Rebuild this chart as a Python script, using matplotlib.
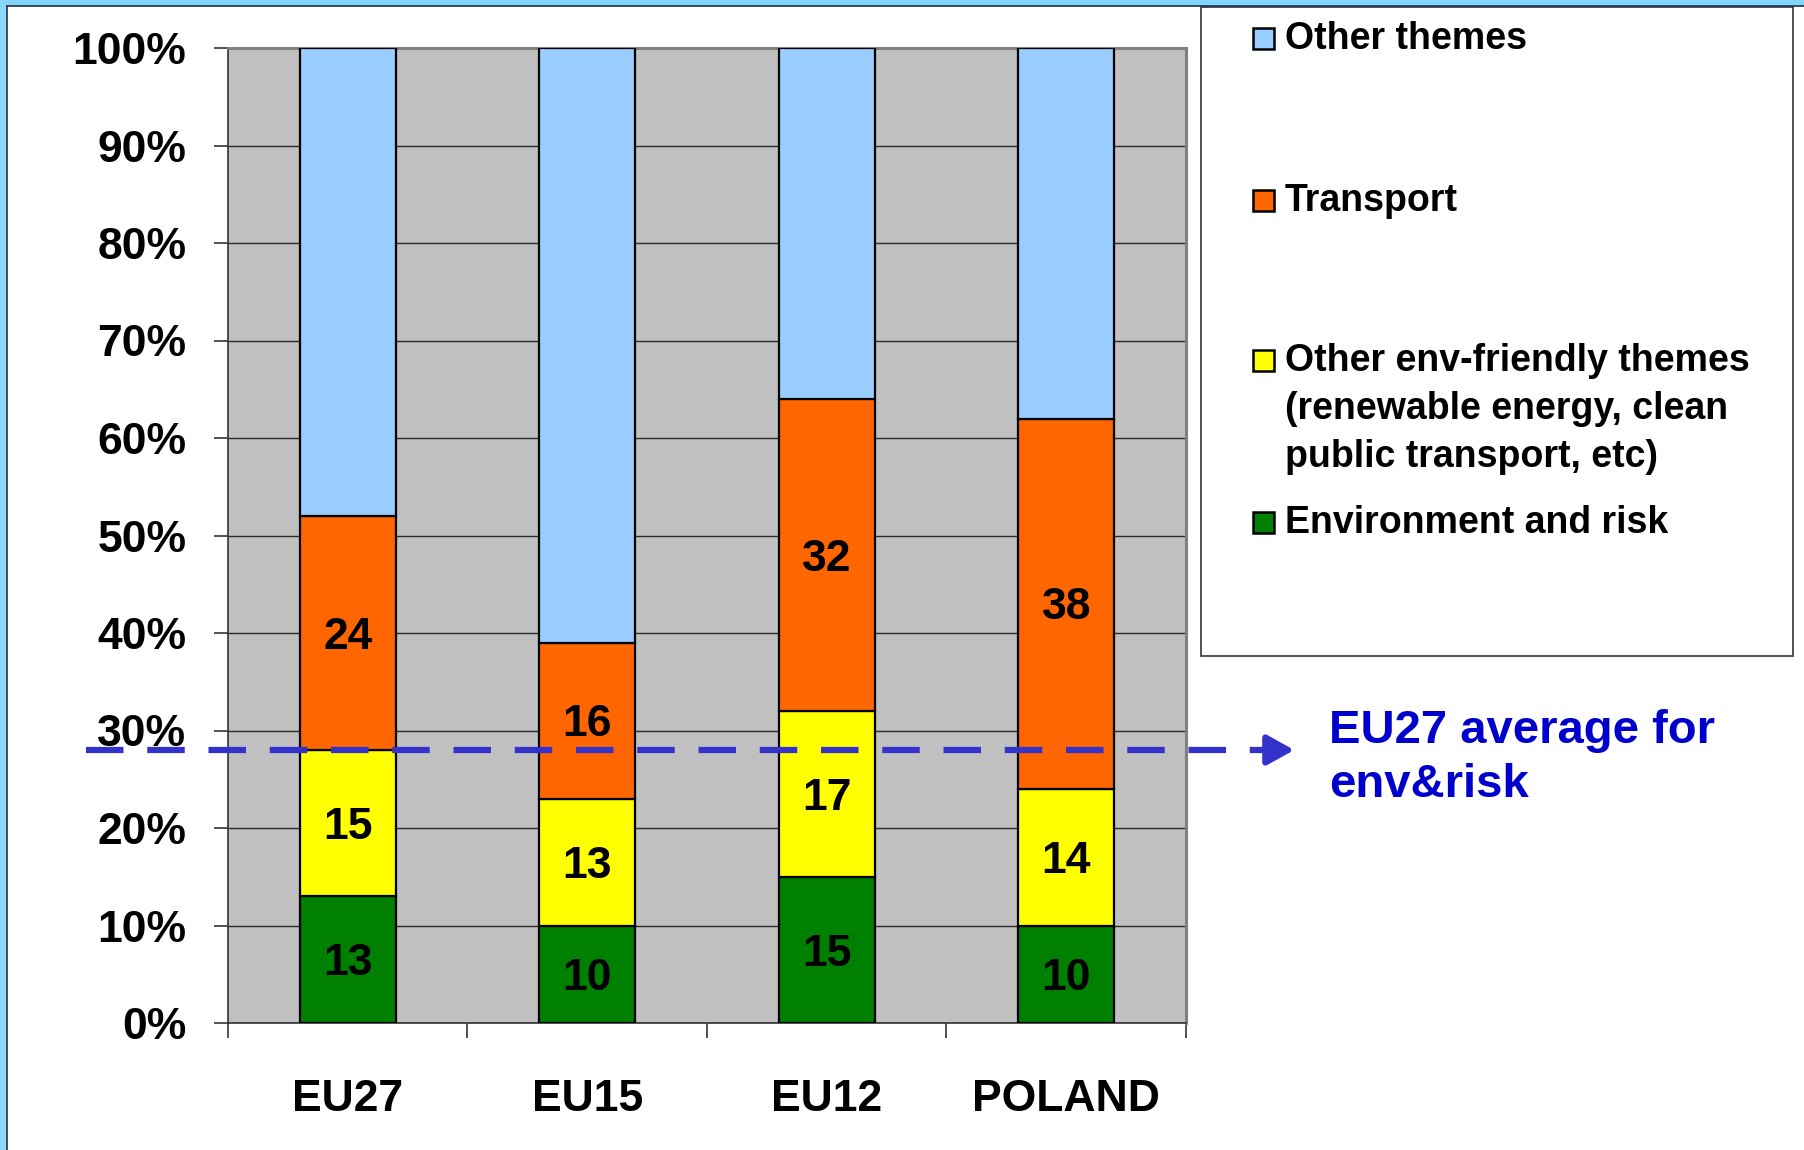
import numpy as np
import matplotlib
matplotlib.use("Agg")
import matplotlib.pyplot as plt
from matplotlib.patches import Rectangle
from matplotlib.lines import Line2D
from matplotlib.ticker import FuncFormatter

plt.rcParams["font.family"] = ["Liberation Sans", "DejaVu Sans"]
plt.rcParams["font.weight"] = "bold"

# data (share of funds, %)
REGIONS   = ["EU27", "EU15", "EU12", "POLAND"]
ENV_RISK  = [13, 10, 15, 10]
OTHER_ENV = [15, 13, 17, 14]
TRANSPORT = [24, 16, 32, 38]
OTHER     = [48, 61, 36, 38]
ENV_AVG   = 28
Y_TICKS   = list(range(0, 101, 10))

SERIES = [ENV_RISK, OTHER_ENV, TRANSPORT, OTHER]
NAMES = ["Environment and risk",
         "Other env-friendly themes\n(renewable energy, clean\npublic transport, etc)",
         "Transport", "Other themes"]
COLORS = ["#008000", "#FFFF00", "#FF6600", "#99CCFF"]
SHOW_LABEL = [True, True, True, False]

W, H = 1804, 1150
fig = plt.figure(figsize=(W / 100, H / 100), dpi=100)
fig.patch.set_facecolor("white")


def fx(x):
    return x / W


def fy(y):
    return 1 - y / H


# slide frame (top / left bands)
fig.add_artist(Rectangle((0, fy(6)), 1, 6 / H, transform=fig.transFigure,
                         fc="#82D5FD", ec="none"))
fig.add_artist(Rectangle((0, 0), fx(7), 1, transform=fig.transFigure,
                         fc="#8AD8FD", ec="none"))
fig.add_artist(Line2D([fx(7), 1], [fy(6), fy(6)], transform=fig.transFigure,
                      color="#223344", lw=1.2))
fig.add_artist(Line2D([fx(7), fx(7)], [0, fy(6)], transform=fig.transFigure,
                      color="#223344", lw=1.2))

ax = fig.add_axes([fx(228), fy(1023), (1186 - 228) / W, (1023 - 48) / H])
ax.set_facecolor("#C0C0C0")
ax.set_xlim(-0.5, len(REGIONS) - 0.5)
ax.set_ylim(0, 100)
ax.yaxis.grid(True, color="#2A2A2A", lw=1.0)
ax.set_axisbelow(True)

for s in ["left", "bottom"]:
    ax.spines[s].set_color("#333333")
    ax.spines[s].set_linewidth(1.2)
for s in ["top", "right"]:
    ax.spines[s].set_color("#808080")
    ax.spines[s].set_linewidth(2.2)

x = np.arange(len(REGIONS))
bottom = np.zeros(len(REGIONS))
for vals, col, lab in zip(SERIES, COLORS, SHOW_LABEL):
    bars = ax.bar(x, vals, 0.4, bottom=bottom, color=col, edgecolor="black",
                  lw=1.6, zorder=3)
    if lab:
        texts = ax.bar_label(bars, labels=[str(v) for v in vals],
                             label_type="center", fontsize=32,
                             fontweight="bold", color="black")
        for t in texts:
            t.xyann = (0, -3)
    bottom += np.array(vals)

ax.set_yticks(Y_TICKS)
ax.yaxis.set_major_formatter(FuncFormatter(lambda v, p: f"{v:.0f}%"))
ax.tick_params(axis="y", length=10, width=1.2, color="#333333", pad=20,
               labelsize=32)
ax.set_xticks(x)
ax.set_xticklabels(REGIONS)
ax.tick_params(axis="x", which="major", length=0, pad=40, labelsize=32)
ax.set_xticks(np.arange(-0.5, len(REGIONS), 1.0), minor=True)
ax.tick_params(axis="x", which="minor", length=11, width=1.2, color="#333333")

# EU27 average dashed arrow
trans = ax.get_yaxis_transform()
ax.plot([-0.148, 1.088], [ENV_AVG, ENV_AVG], transform=trans, color="#3333CC",
        lw=4.5, ls=(0, (6.0, 3.8)), dash_capstyle="butt", clip_on=False,
        zorder=6)
ax.annotate("", xy=(1.113, ENV_AVG), xycoords=trans,
            xytext=(1.085, ENV_AVG), textcoords=trans,
            arrowprops=dict(arrowstyle="-|>,head_length=0.9,head_width=0.5",
                            mutation_scale=18, color="#3333CC", lw=4.5,
                            shrinkA=0, shrinkB=0),
            annotation_clip=False, zorder=6)
fig.text(fx(1329), fy(758), "EU27 average for\nenv&risk", color="#0000CC",
         fontsize=34, fontweight="bold", ha="left", va="center",
         linespacing=1.32)

# legend box
fig.add_artist(Rectangle((fx(1201), fy(656)), (1793 - 1201) / W, (656 - 7) / H,
                         transform=fig.transFigure, fc="white", ec="#333333",
                         lw=1.2))
leg_y = [520, 358, 198, 36]
for name, col, yc in zip(NAMES, COLORS, leg_y):
    fig.add_artist(Rectangle((fx(1253), fy(yc + 13)), 21 / W, 21 / H,
                             transform=fig.transFigure, fc=col, ec="black",
                             lw=1.8))
    fig.text(fx(1285), fy(yc - 15), name, fontsize=27, fontweight="bold",
             ha="left", va="top", linespacing=1.42)

fig.savefig("out.png", dpi=100, facecolor=fig.get_facecolor())
